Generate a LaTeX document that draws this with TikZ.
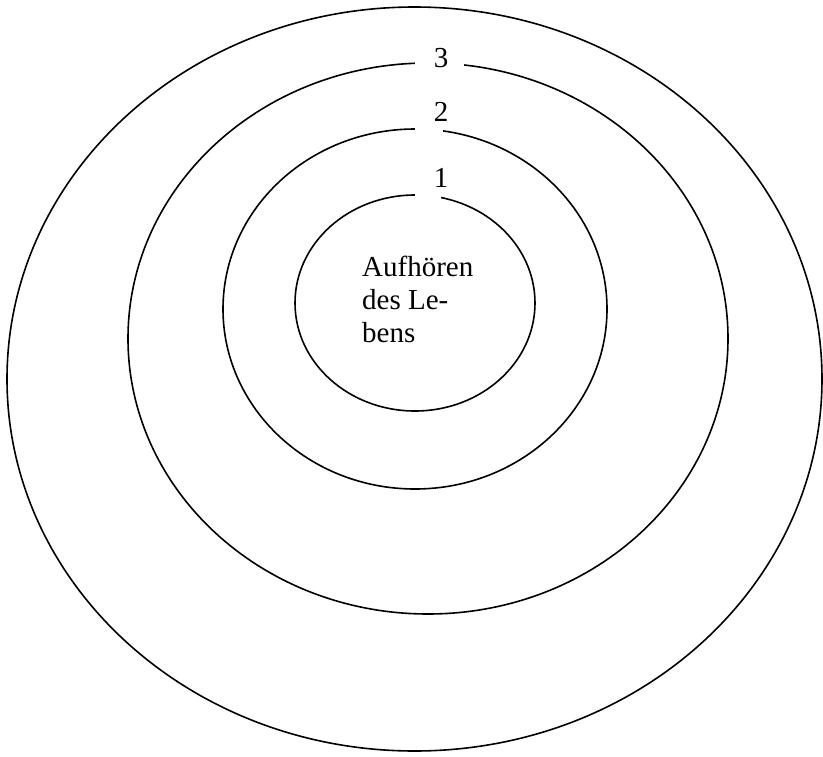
\documentclass[tikz,border=0pt]{standalone}
\usepackage{fontspec}
\setmainfont{Liberation Serif}
\begin{document}
\begin{tikzpicture}[x=1pt,y=-1pt,
  ring/.style={draw=black,line width=1.6pt},
  gapbox/.style={fill=white,draw=none,inner sep=0pt,minimum height=12pt,anchor=west},
  lbl/.style={inner sep=0pt,anchor=base,font=\fontsize{29}{33}\selectfont},
  txt/.style={inner sep=0pt,anchor=base west,font=\fontsize{29}{33}\selectfont}]
\useasboundingbox (0,0) rectangle (823,756);
% rings
\draw[ring] (414.5,379) ellipse [x radius=407.5, y radius=372];
\draw[ring] (428,338.5) ellipse [x radius=300, y radius=275.5];
\draw[ring] (415,309) ellipse [x radius=192, y radius=180];
\draw[ring] (415,303) ellipse [x radius=120, y radius=108];
% gaps behind labels
\node[gapbox,minimum width=49pt] (g3) at (415,64) {};
\node[gapbox,minimum width=28pt] (g2) at (415,129.5) {};
\node[gapbox,minimum width=26pt] (g1) at (415,195.5) {};
% labels
\node[lbl] (l3) at (441,67) {3};
\node[lbl] (l2) at (441,121) {2};
\node[lbl] (l1) at (441,187) {1};
% centre text
\node[txt] (t1) at (362,276) {Aufhören};
\node[txt] (t2) at (362,309) {des Le-};
\node[txt] (t3) at (362,342) {bens};
\end{tikzpicture}
\end{document}
